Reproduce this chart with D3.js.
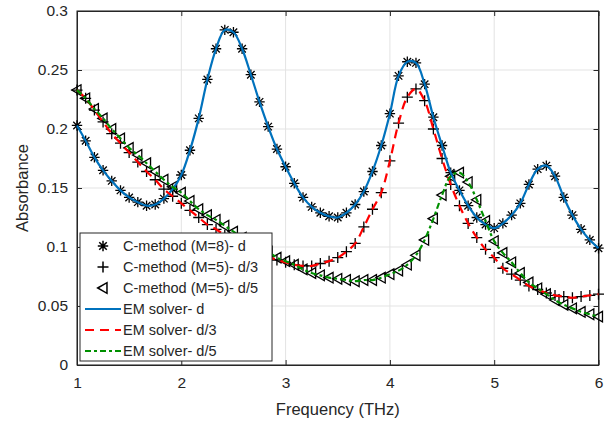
<!DOCTYPE html>
<html>
<head>
<meta charset="utf-8">
<script src="https://d3js.org/d3.v7.min.js"></script>
<style>
body { margin: 0; background: #fff; }
text { font-family: "Liberation Sans", Arial, Helvetica, sans-serif; fill: #262626; }
</style>
</head>
<body>
<div id="chart"></div>
<script>
// frequency grid (THz), 61 points
var freq = [1, 1.083, 1.167, 1.25, 1.333, 1.417, 1.5, 1.583, 1.667, 1.75,
            1.833, 1.917, 2, 2.083, 2.167, 2.25, 2.333, 2.417, 2.5, 2.583,
            2.667, 2.75, 2.833, 2.917, 3, 3.083, 3.167, 3.25, 3.333, 3.417,
            3.5, 3.583, 3.667, 3.75, 3.833, 3.917, 4, 4.083, 4.167, 4.25,
            4.333, 4.417, 4.5, 4.583, 4.667, 4.75, 4.833, 4.917, 5, 5.083,
            5.167, 5.25, 5.333, 5.417, 5.5, 5.583, 5.667, 5.75, 5.833, 5.917, 6];

// thickness d
var absD = [0.203, 0.190, 0.176, 0.165, 0.156, 0.148, 0.142, 0.138, 0.135, 0.136,
            0.141, 0.149, 0.161, 0.182, 0.209, 0.242, 0.268, 0.284, 0.282, 0.268,
            0.246, 0.223, 0.202, 0.183, 0.168, 0.154, 0.142, 0.134, 0.129, 0.126,
            0.125, 0.129, 0.136, 0.147, 0.164, 0.186, 0.213, 0.245, 0.257, 0.256,
            0.238, 0.210, 0.186, 0.163, 0.148, 0.135, 0.125, 0.119, 0.116, 0.120,
            0.127, 0.137, 0.153, 0.166, 0.169, 0.160, 0.142, 0.127, 0.115, 0.106, 0.099];

// thickness d/3
var absD3 = [0.233, 0.226, 0.216, 0.206, 0.196, 0.188, 0.180, 0.172, 0.164, 0.157,
             0.149, 0.143, 0.137, 0.131, 0.125, 0.119, 0.115, 0.110, 0.106, 0.102,
             0.098, 0.095, 0.092, 0.089, 0.087, 0.085, 0.084, 0.084, 0.086, 0.088,
             0.091, 0.096, 0.103, 0.117, 0.132, 0.146, 0.173, 0.205, 0.227, 0.234,
             0.224, 0.200, 0.175, 0.153, 0.135, 0.120, 0.108, 0.098, 0.091, 0.082,
             0.077, 0.072, 0.067, 0.064, 0.061, 0.059, 0.058, 0.057, 0.058, 0.059, 0.060];

// thickness d/5
var absD5 = [0.233, 0.226, 0.217, 0.209, 0.200, 0.192, 0.184, 0.178, 0.171, 0.164,
             0.157, 0.151, 0.146, 0.139, 0.132, 0.127, 0.123, 0.118, 0.113, 0.108,
             0.104, 0.100, 0.096, 0.091, 0.088, 0.085, 0.081, 0.078, 0.076, 0.074,
             0.073, 0.072, 0.071, 0.072, 0.072, 0.074, 0.077, 0.080, 0.085, 0.093,
             0.106, 0.124, 0.144, 0.160, 0.163, 0.155, 0.140, 0.122, 0.105, 0.095,
             0.087, 0.078, 0.070, 0.065, 0.060, 0.055, 0.051, 0.048, 0.045, 0.043, 0.041];

var xTicks = [1, 2, 3, 4, 5, 6];
var yTicks = [0, 0.05, 0.1, 0.15, 0.2, 0.25, 0.3];
var markerLabels = ["C-method (M=8)- d", "C-method (M=5)- d/3", "C-method (M=5)- d/5"];
var lineLabels = ["EM solver- d", "EM solver- d/3", "EM solver- d/5"];

var margin = {top: 11, right: 6.5, bottom: 58, left: 77},
    width = 605 - margin.left - margin.right,
    height = 424 - margin.top - margin.bottom - 1;

var svg = d3.select("#chart")
    .append("svg")
        .attr("width", 605)
        .attr("height", 424)
    .append("g")
        .attr("transform", "translate(" + margin.left + "," + margin.top + ")");

var x = d3.scaleLinear().domain([1, 6]).range([0, width]);
var y = d3.scaleLinear().domain([0, 0.3]).range([height, 0]);

// grid
svg.append("g")
    .selectAll("line")
    .data(xTicks)
  .enter().append("line")
    .attr("x1", function(d) { return x(d); })
    .attr("x2", function(d) { return x(d); })
    .attr("y1", 0).attr("y2", height)
    .attr("stroke", "#e3e3e3");

svg.append("g")
    .selectAll("line")
    .data(yTicks)
  .enter().append("line")
    .attr("y1", function(d) { return y(d); })
    .attr("y2", function(d) { return y(d); })
    .attr("x1", 0).attr("x2", width)
    .attr("stroke", "#e3e3e3");

// axes, ticks inside like matlab
var fmt = function(d) { return String(+d.toFixed(2)); };

svg.append("g")
    .attr("transform", "translate(0," + height + ")")
    .call(d3.axisBottom(x).tickValues(xTicks).tickFormat(fmt).tickSizeInner(-5).tickSizeOuter(0).tickPadding(12));
svg.append("g")
    .call(d3.axisLeft(y).tickValues(yTicks).tickFormat(fmt).tickSizeInner(-5).tickSizeOuter(0).tickPadding(9));
svg.append("g")
    .call(d3.axisTop(x).tickValues(xTicks).tickFormat("").tickSizeInner(-5).tickSizeOuter(0));
svg.append("g")
    .attr("transform", "translate(" + width + ",0)")
    .call(d3.axisRight(y).tickValues(yTicks).tickFormat("").tickSizeInner(-5).tickSizeOuter(0));

svg.selectAll(".domain, .tick line").attr("stroke", "#262626");
svg.selectAll(".tick text")
    .style("font-size", "15.5px")
    .style("font-family", "'Liberation Sans', Arial, sans-serif")
    .attr("fill", "#262626");

svg.append("rect")
    .attr("width", width).attr("height", height)
    .attr("fill", "none").attr("stroke", "#262626");

// axis labels
svg.append("text")
    .attr("x", width / 2).attr("y", height + 50)
    .attr("text-anchor", "middle")
    .style("font-size", "16.5px")
    .text("Frequency (THz)");

svg.append("text")
    .attr("transform", "translate(" + (-49) + "," + (height / 2) + ") rotate(-90)")
    .attr("text-anchor", "middle")
    .style("font-size", "16.5px")
    .text("Absorbance");

// marker shapes
function markerPath(kind) {
    var r = 5.2;
    if (kind == 0) {
        var q = r * 0.72;
        return "M" + (-r) + ",0L" + r + ",0M0," + (-r) + "L0," + r +
               "M" + (-q) + "," + (-q) + "L" + q + "," + q + "M" + (-q) + "," + q + "L" + q + "," + (-q);
    } else if (kind == 1) {
        r = 5.5;
        return "M" + (-r) + ",0L" + r + ",0M0," + (-r) + "L0," + r;
    }
    r = 5.3;
    return "M" + (-r) + ",0L" + (r * 0.75) + "," + (-r) + "L" + (r * 0.75) + "," + r + "Z";
}

var series = [absD, absD3, absD5];
var colors = ["#0072BD", "#FF0000", "#009000"];
var dashes = [null, "9,6", "6,3,3,3"];

// C-method markers
series.forEach(function(vals, k) {
    svg.append("g")
        .selectAll("path")
        .data(vals)
      .enter().append("path")
        .attr("transform", function(d, i) { return "translate(" + x(freq[i]) + "," + y(d) + ")"; })
        .attr("d", markerPath(k))
        .attr("fill", "none")
        .attr("stroke", "#000")
        .attr("stroke-width", 1.3);
});

// EM solver lines
var line = d3.line()
    .x(function(d, i) { return x(freq[i]); })
    .y(function(d) { return y(d); })
    .curve(d3.curveCatmullRom.alpha(0.5));

series.forEach(function(vals, k) {
    svg.append("path")
        .datum(vals)
        .attr("d", line)
        .attr("fill", "none")
        .attr("stroke", colors[k])
        .attr("stroke-width", 2.2)
        .attr("stroke-dasharray", dashes[k]);
});

// legend
var lg = svg.append("g").attr("transform", "translate(" + 3 + "," + 222 + ")");
lg.append("rect")
    .attr("width", 192).attr("height", 128)
    .attr("fill", "#fff").attr("stroke", "#262626");

var rowY = function(i) { return 13 + i * 21; };

markerLabels.forEach(function(t, i) {
    lg.append("path")
        .attr("transform", "translate(23," + rowY(i) + ")")
        .attr("d", markerPath(i))
        .attr("fill", "none").attr("stroke", "#000").attr("stroke-width", 1.5);
    lg.append("text")
        .attr("x", 43).attr("y", rowY(i) + 5)
        .style("font-size", "14.5px")
        .text(t);
});

lineLabels.forEach(function(t, i) {
    var yy = rowY(i + 3);
    lg.append("line")
        .attr("x1", 5).attr("x2", 41)
        .attr("y1", yy).attr("y2", yy)
        .attr("stroke", colors[i]).attr("stroke-width", 2.2)
        .attr("stroke-dasharray", dashes[i]);
    lg.append("text")
        .attr("x", 43).attr("y", yy + 5)
        .style("font-size", "14.5px")
        .text(t);
});
</script>
</body>
</html>
